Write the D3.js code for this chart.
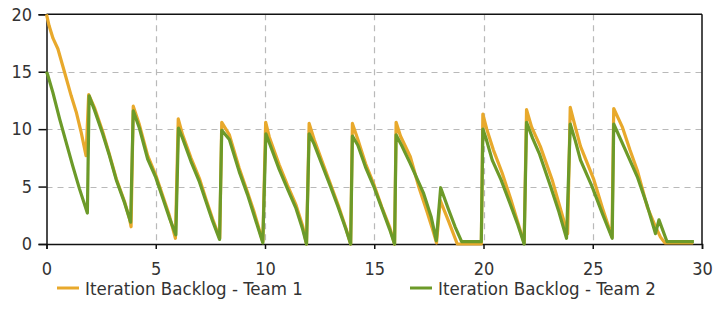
<!DOCTYPE html>
<html>
<head>
<meta charset="utf-8">
<script src="https://cdn.jsdelivr.net/npm/d3@7"></script>
<style>
  html, body { margin: 0; padding: 0; background: #fff; }
  svg { display: block; }
  text { font-family: "DejaVu Sans", sans-serif; font-stretch: condensed; fill: #333; }
</style>
</head>
<body>
<svg id="chart" width="715" height="326"></svg>
<script>
// Remaining backlog per iteration day, two teams
const team1Days = [0, 0.12, 0.3, 0.52, 0.82, 1.13, 1.36, 1.59, 1.81, 1.93,
  2.19, 2.57, 2.88, 3.19, 3.57, 3.8, 3.87, 3.97,
  4.25, 4.63, 5.0, 5.32, 5.62, 5.9, 6.03,
  6.23, 6.61, 7.0, 7.3, 7.6, 7.93, 8.02,
  8.37, 8.82, 9.2, 9.5, 9.9, 10.03,
  10.2, 10.65, 11.03, 11.42, 11.72, 11.9, 12.02,
  12.25, 12.65, 13.0, 13.35, 13.7, 13.92, 14.0,
  14.25, 14.6, 15.0, 15.35, 15.7, 15.93, 16.0,
  16.2, 16.65, 17.05, 17.4, 17.65, 17.85, 18.02, 18.4, 18.8, 19.9, 19.97,
  20.15, 20.45, 20.85, 21.25, 21.55, 21.86, 21.97,
  22.2, 22.6, 23.14, 23.5, 23.85, 23.97,
  24.2, 24.44, 25.05, 25.45, 25.88, 25.96,
  26.35, 26.7, 27.04, 27.5, 27.85, 28.1, 28.3, 29.6];
const team1Remaining = [20, 19.0, 17.9, 17.0, 15.0, 12.9, 11.5, 9.7, 7.7, 13.0,
  11.9, 9.8, 7.8, 5.7, 3.7, 2.2, 1.5, 12.0,
  10.4, 7.7, 6.0, 4.2, 2.5, 0.5, 10.9,
  9.5, 7.5, 5.7, 3.9, 2.2, 0.5, 10.6,
  9.5, 6.6, 4.5, 2.8, 0.2, 10.6,
  9.3, 6.9, 5.1, 3.4, 1.6, 0, 10.5,
  9.1, 7.0, 5.2, 3.4, 1.4, 0, 10.5,
  9.1, 7.0, 5.1, 3.2, 1.5, 0, 10.6,
  9.4, 7.6, 4.9, 2.9, 1.4, 0.1, 3.8, 2.0, 0, 0, 11.3,
  10.0, 8.2, 6.2, 3.9, 2.0, 0.1, 11.7,
  10.2, 8.5, 5.6, 3.2, 0.9, 11.9,
  10.2, 8.5, 5.6, 3.1, 0.6, 11.8,
  10.2, 8.2, 6.4, 3.2, 1.6, 0.6, 0.1, 0.1];

const team2Days = [0, 0.06, 0.29, 0.6, 0.9, 1.2, 1.51, 1.87, 1.95,
  2.19, 2.57, 2.88, 3.19, 3.57, 3.85, 3.97,
  4.25, 4.63, 5.0, 5.32, 5.62, 5.92, 6.04,
  6.23, 6.61, 7.0, 7.3, 7.6, 7.92, 8.02,
  8.37, 8.82, 9.2, 9.5, 9.9, 10.04,
  10.2, 10.65, 11.03, 11.42, 11.72, 11.9, 12.02,
  12.25, 12.65, 13.0, 13.35, 13.7, 13.92, 14.0,
  14.25, 14.6, 15.0, 15.35, 15.7, 15.93, 16.0,
  16.25, 16.65, 17.26, 17.6, 17.84, 18.04, 18.4, 18.7, 19.0, 19.9, 19.97,
  20.1, 20.4, 20.8, 21.2, 21.55, 21.86, 21.97,
  22.25, 22.55, 23.07, 23.45, 23.8, 23.97,
  24.2, 24.44, 24.97, 25.45, 25.89, 25.96,
  26.42, 27.04, 27.5, 27.87, 28.03, 28.4, 29.63];
const team2Remaining = [15, 14.7, 13.2, 10.9, 8.85, 6.8, 4.8, 2.7, 12.9,
  11.7, 9.6, 7.7, 5.6, 3.6, 1.9, 11.6,
  10.1, 7.4, 5.8, 4.0, 2.3, 0.8, 10.1,
  9.2, 7.2, 5.4, 3.7, 2.0, 0.4, 9.9,
  9.1, 6.3, 4.3, 2.5, 0.1, 9.6,
  8.8, 6.5, 4.8, 3.1, 1.3, 0, 9.6,
  8.7, 6.7, 5.0, 3.2, 1.3, 0, 9.4,
  8.6, 6.7, 4.9, 3.1, 1.3, 0, 9.5,
  8.6, 7.0, 4.4, 2.4, 0.3, 4.9, 3.0, 1.5, 0.2, 0.2, 10.0,
  9.3, 7.3, 5.6, 3.6, 1.8, 0, 10.6,
  9.2, 7.9, 5.0, 2.8, 0.5, 10.45,
  9.0, 7.3, 5.0, 2.6, 0.5, 10.45,
  8.5, 5.85, 3.3, 0.9, 2.1, 0.2, 0.2];

const seriesNames = ["Iteration Backlog - Team 1", "Iteration Backlog - Team 2"];
const seriesColors = ["#e8a92c", "#6c9a29"];
const xTicks = [0, 5, 10, 15, 20, 25, 30];
const yTicks = [0, 5, 10, 15, 20];

const svg = d3.select("#chart");
const x = d3.scaleLinear().domain([0, 30]).range([46.5, 702]);
const y = d3.scaleLinear().domain([0, 20]).range([244, 14.3]);

// dashed grid
const grid = svg.append("g").attr("stroke", "#b9b9b9").attr("stroke-width", 1.2)
  .attr("stroke-dasharray", "6,5").attr("fill", "none");
grid.selectAll(".gx").data(xTicks.filter(d => d > 0 && d < 30)).join("line")
  .attr("x1", d => Math.round(x(d)) + 0.5).attr("x2", d => Math.round(x(d)) + 0.5)
  .attr("y1", y(20)).attr("y2", y(0));
grid.selectAll(".gy").data(yTicks.filter(d => d > 0 && d < 20)).join("line")
  .attr("x1", x(0)).attr("x2", x(30))
  .attr("y1", d => Math.round(y(d)) + 0.5).attr("y2", d => Math.round(y(d)) + 0.5);

// frame top and right
svg.append("line").attr("x1", x(0)).attr("x2", x(30)).attr("y1", y(20)).attr("y2", y(20))
  .attr("stroke", "#111").attr("stroke-width", 1.5);
svg.append("line").attr("x1", x(30)).attr("x2", x(30)).attr("y1", y(20)).attr("y2", y(0))
  .attr("stroke", "#111").attr("stroke-width", 1.5);

// axes
const xAxis = svg.append("g").attr("transform", `translate(0,${y(0)})`)
  .call(d3.axisBottom(x).tickValues(xTicks).tickSize(5).tickPadding(13).tickFormat(d3.format("d")));
const yAxis = svg.append("g").attr("transform", `translate(${x(0)},0)`)
  .call(d3.axisLeft(y).tickValues(yTicks).tickSize(8).tickPadding(6.5).tickFormat(d3.format("d")));
[xAxis, yAxis].forEach(a => {
  a.select(".domain").attr("stroke", "#111").attr("stroke-width", 1.5);
  a.selectAll(".tick line").attr("stroke", "#111").attr("stroke-width", 1.5);
  a.selectAll("text").attr("font-size", 18).attr("fill", "#333")
    .style("font-family", "'DejaVu Sans', sans-serif").style("font-stretch", "condensed");
});

// series lines
const line = d3.line().x(d => x(d[0])).y(d => y(d[1]));
const series = [
  d3.zip(team1Days, team1Remaining),
  d3.zip(team2Days, team2Remaining)
];
svg.append("g").selectAll("path").data(series).join("path")
  .attr("d", line)
  .attr("fill", "none")
  .attr("stroke", (d, i) => seriesColors[i])
  .attr("stroke-width", 3.2)
  .attr("stroke-linejoin", "round");

// legend
const legendX = [57, 410];
const legend = svg.append("g").selectAll("g").data(seriesNames).join("g")
  .attr("transform", (d, i) => `translate(${legendX[i]},288)`);
legend.append("line").attr("x1", 0).attr("x2", 22).attr("y1", 0).attr("y2", 0)
  .attr("stroke", (d, i) => seriesColors[i]).attr("stroke-width", 3);
legend.append("text").attr("x", 28).attr("y", 0).attr("dy", "0.36em")
  .attr("font-size", 18.5).text(d => d);
</script>
</body>
</html>
